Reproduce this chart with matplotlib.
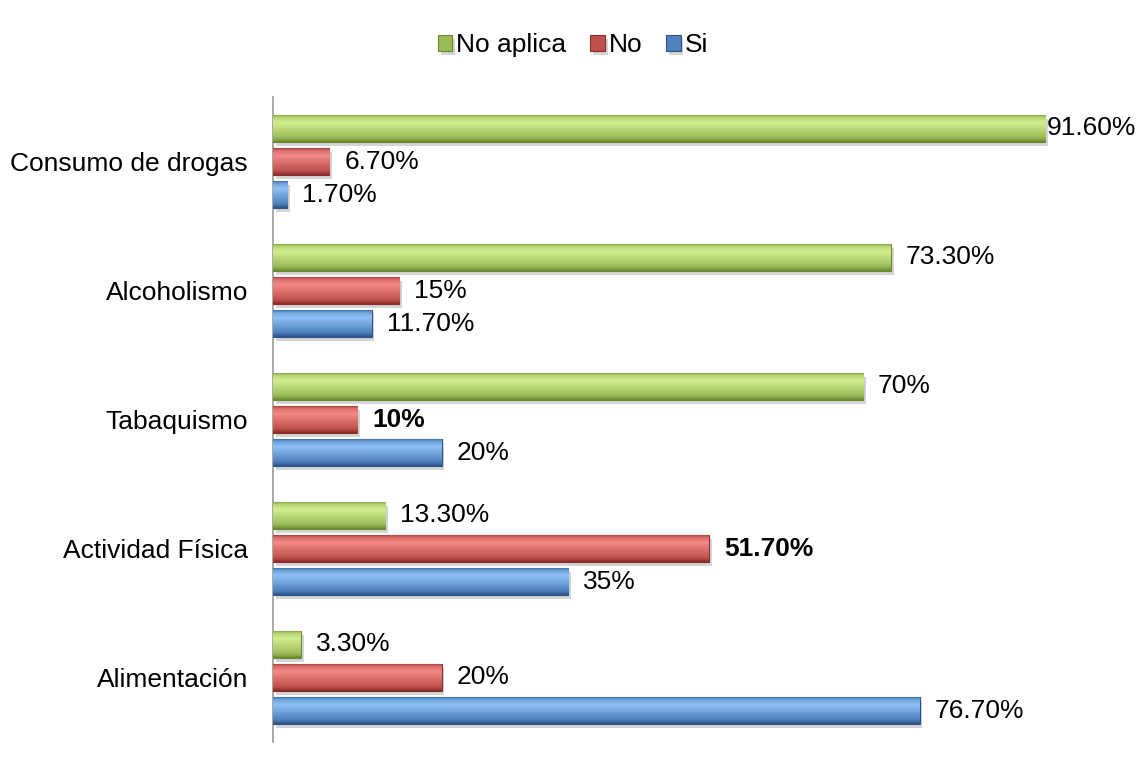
import numpy as np
import matplotlib.pyplot as plt
import matplotlib.patheffects as pe
from matplotlib.colors import LinearSegmentedColormap

plt.rcParams['font.family'] = ['Liberation Sans', 'DejaVu Sans']

# categories, bottom to top
categorias = ['Alimentación', 'Actividad Física', 'Tabaquismo', 'Alcoholismo', 'Consumo de drogas']
si = [76.7, 35, 20, 11.7, 1.7]
no = [20, 51.7, 10, 15, 6.7]
no_aplica = [3.3, 13.3, 70, 73.3, 91.6]

et_si = ['76.70%', '35%', '20%', '11.70%', '1.70%']
et_no = ['20%', '51.70%', '10%', '15%', '6.70%']
et_na = ['3.30%', '13.30%', '70%', '73.30%', '91.60%']
negrita = {'10%', '51.70%'}

# (base, light, dark) per series
colores = {
    'Si': ('#4F81BD', '#8EC2F5', '#2C5487'),
    'No': ('#C0504D', '#F28A87', '#8A2C2A'),
    'No aplica': ('#9BBB59', '#D3EE8F', '#6B8A2E'),
}

fig = plt.figure(figsize=(11.43, 7.63), dpi=100)
ax = fig.add_axes([273 / 1143, 1 - 742 / 763, (1116 - 273) / 1143, 645 / 763])

y = np.arange(len(categorias))
paso = 0.258
alto = 0.21


def barras_bisel(pos, vals, nombre):
    base, claro, oscuro = colores[nombre]
    cmap = LinearSegmentedColormap.from_list(nombre, [oscuro, base, claro, base, oscuro])
    bars = ax.barh(pos, vals, height=alto, color=base, edgecolor=oscuro, linewidth=0.8,
                   label=nombre, zorder=3)
    grad = np.linspace(0, 1, 64).reshape(-1, 1)
    # vertical profile: dark bottom, light upper band, dark top edge
    perfil = np.interp(grad, [0, 0.15, 0.7, 0.88, 1.0], [0.0, 0.25, 0.5, 0.62, 0.9])
    for b in bars:
        x0, y0 = b.get_x(), b.get_y()
        w, h = b.get_width(), b.get_height()
        b.set_path_effects([pe.SimplePatchShadow(offset=(2, -3), shadow_rgbFace='#888888', alpha=0.35),
                            pe.Normal()])
        im = ax.imshow(perfil, aspect='auto', cmap=cmap, vmin=0, vmax=1, origin='lower',
                       extent=[x0, x0 + w, y0, y0 + h], zorder=4, interpolation='bilinear')
        im.set_clip_path(b)
    return bars


b_si = barras_bisel(y - paso, si, 'Si')
b_no = barras_bisel(y, no, 'No')
b_na = barras_bisel(y + paso, no_aplica, 'No aplica')

for bars, etiquetas in [(b_si, et_si), (b_no, et_no), (b_na, et_na)]:
    for b, t in zip(bars, etiquetas):
        dx = 2 if b.get_width() > 90 else 15
        ax.annotate(t, (b.get_width(), b.get_y() + b.get_height() / 2),
                    xytext=(dx, 0), textcoords='offset pixels',
                    va='center', ha='left', fontsize=19,
                    fontweight='bold' if t in negrita else 'normal', zorder=6,
                    annotation_clip=False)

ax.set_xlim(0, 100)
ax.set_ylim(-0.5, 4.5)
ax.set_yticks(y)
ax.set_yticklabels(categorias, fontsize=19)
ax.tick_params(axis='y', length=0, pad=18)
ax.set_xticks([])
for s in ['top', 'right', 'bottom']:
    ax.spines[s].set_visible(False)
ax.spines['left'].set_color('#999999')
ax.spines['left'].set_linewidth(1.2)

h, l = ax.get_legend_handles_labels()
fig.legend(h[::-1], l[::-1], loc='center', bbox_to_anchor=(573 / 1143, 1 - 45 / 763), ncol=3,
           frameon=False, fontsize=19, handlelength=0.55, handleheight=0.55,
           handletextpad=0.15, columnspacing=0.9)

fig.savefig('out.png', dpi=100)
